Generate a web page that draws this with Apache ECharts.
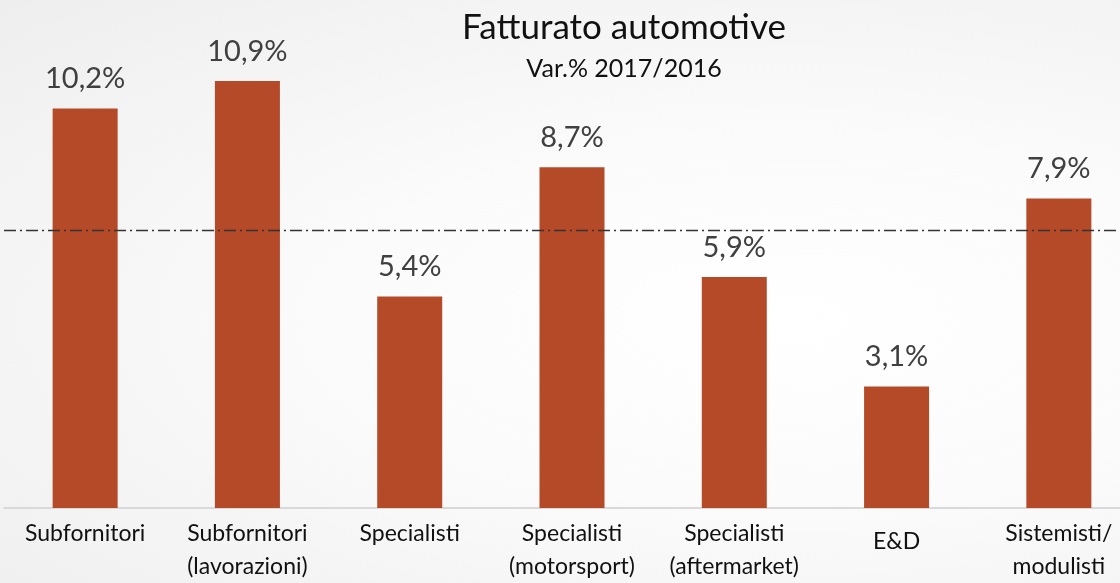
<!DOCTYPE html>
<html>
<head>
<meta charset="utf-8">
<script src="https://cdn.jsdelivr.net/npm/echarts@6/dist/echarts.min.js"></script>
<style>
  html, body { margin: 0; padding: 0; width: 1120px; height: 583px; overflow: hidden; }
  body { background: radial-gradient(ellipse at 70% 55%, #ffffff 0%, #fbfbfb 40%, #eeeeee 100%); }
  #chart { width: 1140px; height: 583px; }
</style>
</head>
<body>
<div id="chart"></div>
<script>
const categories = [
  "Subfornitori",
  "Subfornitori\n(lavorazioni)",
  "Specialisti",
  "Specialisti\n(motorsport)",
  "Specialisti\n(aftermarket)",
  "E&D",
  "Sistemisti/\nmodulisti",
];
const values = [10.2, 10.9, 5.4, 8.7, 5.9, 3.1, 7.9];
const referenceLine = 7.1;

const chart = echarts.init(document.getElementById("chart"), null, { renderer: "canvas" });

chart.setOption({
  animation: false,
  backgroundColor: "transparent",
  title: {
    text: "Fatturato automotive",
    subtext: "Var.% 2017/2016",
    left: 619,
    top: 5,
    textAlign: "center",
    itemGap: 11,
    textStyle: { fontFamily: "Lato", fontSize: 35, fontWeight: "normal", color: "#111" },
    subtextStyle: { fontFamily: "Lato", fontSize: 25, color: "#111" },
  },
  grid: { left: 4, right: 0, top: 38, bottom: 70 },
  xAxis: {
    type: "category",
    data: categories,
    axisLine: { lineStyle: { color: "#d9d9d9", width: 2 } },
    axisTick: { show: false },
    axisLabel: {
      interval: 0,
      margin: 9,
      fontFamily: "Lato",
      fontSize: 23,
      lineHeight: 33,
      color: "#111",
      formatter: (value) => (value === "E&D" ? "{mid|E&D}" : value),
      rich: { mid: { fontFamily: "Lato", fontSize: 23, color: "#111", padding: [16, 0, 0, 0] } },
    },
  },
  yAxis: { type: "value", min: 0, max: 12, show: false, splitLine: { show: false } },
  series: [
    {
      type: "bar",
      data: values,
      barWidth: 65,
      itemStyle: { color: "#b54a28" },
      label: {
        show: true,
        position: "top",
        distance: 15,
        fontFamily: "Lato",
        fontSize: 29,
        color: "#404040",
        formatter: (p) => p.value.toFixed(1).replace(".", ",") + "%",
      },
      markLine: {
        silent: true,
        symbol: "none",
        label: { show: false },
        lineStyle: { color: "#333", width: 1.3, type: [12, 4, 2, 4] },
        data: [{ yAxis: referenceLine }],
      },
    },
  ],
});
</script>
</body>
</html>
